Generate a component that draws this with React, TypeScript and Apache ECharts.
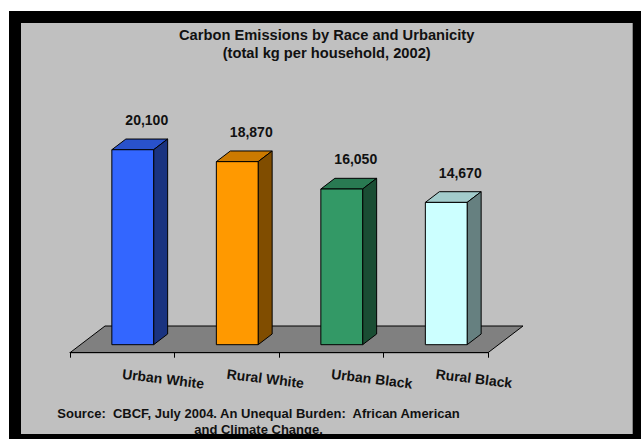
import React, { useEffect, useRef } from "react";
import * as echarts from "echarts";

const categories = ["Urban White", "Rural White", "Urban Black", "Rural Black"];
const emissions = [20100, 18870, 16050, 14670];
const frontColors = ["#3366FF", "#FF9900", "#339966", "#CCFFFF"];
const topColors = ["#2952CC", "#CC7A00", "#297A52", "#A3CCCC"];
const sideColors = ["#1A3380", "#804D00", "#1A4D33", "#668080"];
const titleLines = ["Carbon Emissions by Race and Urbanicity", "(total kg per household, 2002)"];
const sourceLines = [
  "Source:  CBCF, July 2004. An Unequal Burden:  African American",
  "and Climate Change.",
];

const FONT = "'Liberation Sans', Arial, Helvetica, sans-serif";
const DEPTH_X = 35;
const DEPTH_Y = -26.7;
const BAR_FRONT = 0.3;
const BAR_BACK = 0.7;
const BAR_WIDTH = 0.4;

export default function App() {
  const ref = useRef<HTMLDivElement>(null);
  useEffect(() => {
    const chart = echarts.init(ref.current as HTMLDivElement, null, { renderer: "svg" });

    const floorSeries = {
      type: "custom",
      silent: true,
      z: 1,
      data: [0],
      renderItem: (params: any, api: any) => {
        const band = api.size([1, 0])[0];
        const first = api.coord([0, 0]);
        const last = api.coord([categories.length - 1, 0]);
        const x0 = first[0] - band / 2;
        const x1 = last[0] + band / 2;
        const yb = first[1];
        return {
          type: "polygon",
          shape: {
            points: [
              [x0, yb],
              [x1, yb],
              [x1 + DEPTH_X, yb + DEPTH_Y],
              [x0 + DEPTH_X, yb + DEPTH_Y],
            ],
          },
          style: { fill: "#808080", stroke: "#000", lineWidth: 1 },
        };
      },
    };

    const barSeries = {
      type: "custom",
      silent: true,
      z: 2,
      data: emissions.map((v, i) => [i, v]),
      encode: { x: 0, y: 1 },
      renderItem: (params: any, api: any) => {
        const i = api.value(0);
        const v = api.value(1);
        const idx = params.dataIndex;
        const base = api.coord([i, 0]);
        const top = api.coord([i, v]);
        const band = api.size([1, 0])[0];
        const w = band * BAR_WIDTH;
        const fx = BAR_FRONT * DEPTH_X;
        const fy = BAR_FRONT * DEPTH_Y;
        const bx = BAR_BACK * DEPTH_X;
        const by = BAR_BACK * DEPTH_Y;
        const ddx = bx - fx;
        const ddy = by - fy;
        const xl = base[0] - w / 2 + fx;
        const xr = base[0] + w / 2 + fx;
        const yb = base[1] + fy;
        const yt = top[1] + fy;
        const stroke = { stroke: "#000", lineWidth: 1 };
        return {
          type: "group",
          children: [
            {
              type: "polygon",
              shape: { points: [[xl, yt], [xr, yt], [xr + ddx, yt + ddy], [xl + ddx, yt + ddy]] },
              style: { fill: topColors[idx], ...stroke },
            },
            {
              type: "polygon",
              shape: { points: [[xr, yb], [xr, yt], [xr + ddx, yt + ddy], [xr + ddx, yb + ddy]] },
              style: { fill: sideColors[idx], ...stroke },
            },
            {
              type: "rect",
              shape: { x: xl, y: yt, width: w, height: yb - yt },
              style: { fill: frontColors[idx], ...stroke },
            },
            {
              type: "text",
              x: base[0] + bx,
              y: top[1] + by - 19,
              style: {
                text: Number(v).toLocaleString("en-US"),
                fill: "#111",
                font: `bold 14px ${FONT}`,
                align: "center",
                verticalAlign: "middle",
              },
            },
          ],
        };
      },
    };

    const option = {
      animation: false,
      backgroundColor: "#FFFFFF",
      title: [
        {
          text: titleLines.join("\n"),
          left: 326.7,
          top: 26,
          textAlign: "center",
          padding: 0,
          textStyle: {
            fontSize: 14.7,
            fontWeight: "bold",
            color: "#111",
            fontFamily: FONT,
            lineHeight: 18.3,
          },
        },
        {
          text: sourceLines.join("\n"),
          left: 258.5,
          top: 405.3,
          textAlign: "center",
          padding: 0,
          textStyle: {
            fontSize: 13,
            fontWeight: "bold",
            color: "#111",
            fontFamily: FONT,
            lineHeight: 16,
          },
        },
      ],
      graphic: [
        {
          type: "rect",
          z: -10,
          silent: true,
          shape: { x: 15, y: 17, width: 623.7, height: 423 },
          style: { fill: "#C0C0C0" },
        },
        {
          type: "rect",
          z: 100,
          silent: true,
          shape: { x: 15, y: 17, width: 623.7, height: 423 },
          style: { fill: "none", stroke: "#000", lineWidth: 12 },
        },
      ],
      grid: { left: 70, right: 153, top: 110.2, bottom: 86.3, outerBoundsMode: "none" },
      xAxis: {
        type: "category",
        data: categories,
        boundaryGap: true,
        z: 3,
        axisLine: { show: true, lineStyle: { color: "#000", width: 1 } },
        axisTick: { show: true, length: 5, lineStyle: { color: "#000" } },
        axisLabel: {
          interval: 0,
          rotate: -7,
          margin: 21,
          fontSize: 14,
          fontWeight: "bold",
          color: "#111",
          fontFamily: FONT,
        },
        splitLine: { show: false },
      },
      yAxis: { type: "value", min: 0, max: 25000, show: false },
      series: [floorSeries, barSeries],
    };

    chart.setOption(option as any);
    return () => chart.dispose();
  }, []);

  return (
    <div
      ref={ref}
      style={{ position: "fixed", left: 0, top: 0, width: 641, height: 439 }}
    />
  );
}
